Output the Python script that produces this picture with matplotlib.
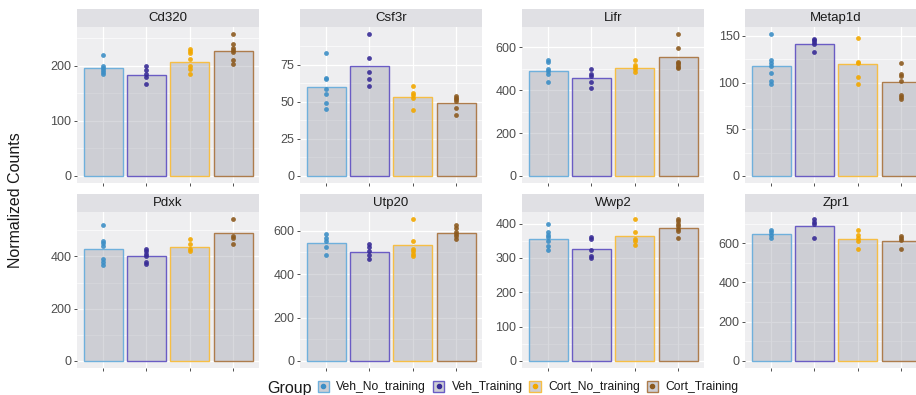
import matplotlib
matplotlib.use("Agg")
import matplotlib.pyplot as plt
from matplotlib.lines import Line2D
from matplotlib.patches import Patch
from matplotlib.legend_handler import HandlerTuple
import numpy as np

plt.rcParams['font.family'] = ['Liberation Sans', 'DejaVu Sans']

groups = ["Veh_No_training", "Veh_Training", "Cort_No_training", "Cort_Training"]
genes = ["Cd320", "Csf3r", "Lifr", "Metap1d", "Pdxk", "Utp20", "Wwp2", "Zpr1"]

# bar heights (group means) per gene
bar_Cd320 = [197, 184, 208, 228]
bar_Csf3r = [60, 73.9, 53.3, 49.2]
bar_Lifr = [492, 455, 506, 555]
bar_Metap1d = [117.4, 141.8, 119.6, 101]
bar_Pdxk = [428, 400, 437, 491]
bar_Utp20 = [543, 502, 535, 592]
bar_Wwp2 = [356, 327, 365, 388]
bar_Zpr1 = [645, 690, 624, 612]

# individual sample values per gene, per group
pts_Cd320 = [[220.7, 200.6, 197, 193, 189, 185],
             [199.4, 192, 185.4, 180, 168],
             [231.6, 228, 224, 212, 200, 194, 186],
             [258, 240, 233, 229, 226, 210, 204]]
pts_Csf3r = [[83.1, 66, 65.4, 58.2, 55.3, 49.2, 44.9],
             [95.5, 79.3, 70.1, 65.2, 60.7],
             [60.4, 55.5, 54.4, 52.6, 44.3],
             [53.9, 52.8, 51.7, 50.3, 45.4, 41.3]]
pts_Lifr = [[541, 531, 497, 489, 475, 439],
            [499, 475, 466, 438, 411],
            [542, 516, 510, 497, 486],
            [662, 598, 533, 525, 517, 510, 502]]
pts_Metap1d = [[152, 124, 121, 118, 110, 102, 98.5],
               [146.8, 145.4, 143.6, 141.8, 132.8],
               [147.5, 122.4, 120.7, 106.3, 98.5],
               [121, 109.6, 107, 101.3, 86.3, 84.1, 82.3]]
pts_Pdxk = [[520, 459, 451, 441, 390, 380, 368],
            [428, 419, 410, 403, 380, 371],
            [466, 447, 428, 420],
            [543, 477, 469, 447]]
pts_Utp20 = [[585, 569, 554, 526, 489],
             [537, 525, 505, 488, 468],
             [654, 554, 518, 506, 494, 485],
             [628, 611, 595, 586, 577, 562]]
pts_Wwp2 = [[400, 376, 366, 361, 348, 336, 323],
            [360, 354, 322, 305, 301],
            [412, 376, 356, 349, 339],
            [413, 407, 400, 392, 385, 377, 359]]
pts_Zpr1 = [[668, 655, 641, 627],
            [723, 709, 696, 629],
            [667, 641, 626, 612, 573],
            [638, 626, 616, 571]]

ticks_Cd320 = [0, 100, 200]
ticks_Csf3r = [0, 25, 50, 75]
ticks_Lifr = [0, 200, 400, 600]
ticks_Metap1d = [0, 50, 100, 150]
ticks_Pdxk = [0, 200, 400]
ticks_Utp20 = [0, 200, 400, 600]
ticks_Wwp2 = [0, 100, 200, 300, 400]
ticks_Zpr1 = [0, 200, 400, 600]

bars = [bar_Cd320, bar_Csf3r, bar_Lifr, bar_Metap1d, bar_Pdxk, bar_Utp20, bar_Wwp2, bar_Zpr1]
pts = [pts_Cd320, pts_Csf3r, pts_Lifr, pts_Metap1d, pts_Pdxk, pts_Utp20, pts_Wwp2, pts_Zpr1]
ticks = [ticks_Cd320, ticks_Csf3r, ticks_Lifr, ticks_Metap1d, ticks_Pdxk, ticks_Utp20, ticks_Wwp2, ticks_Zpr1]

edge_cols = ["#6FB0DC", "#6A5CC4", "#F6BE45", "#AD7C4C"]
pt_cols = ["#3D8FC6", "#382C96", "#F2A800", "#8C5A1F"]
panel_bg = "#EEEEF0"
strip_bg = "#E0E0E4"
bar_fill = "#9C9EAA"
tick_col = "#4D4D4D"

W, H = 916, 395
fig = plt.figure(figsize=(W / 100, H / 100), dpi=100)

col_left = [77, 300, 522, 745]
row_top = [9, 194]
pw, strip_h, ph = 182, 18, 156

for i, gene in enumerate(genes):
    r, c = divmod(i, 4)
    x0 = col_left[c]
    ytop = row_top[r]
    ax = fig.add_axes([x0 / W, 1 - (ytop + strip_h + ph) / H, pw / W, ph / H])
    sax = fig.add_axes([x0 / W, 1 - (ytop + strip_h) / H, pw / W, strip_h / H])
    sax.set_facecolor(strip_bg)
    sax.set_xticks([]); sax.set_yticks([])
    for s in sax.spines.values():
        s.set_visible(False)
    sax.text(0.5, 0.5, gene, ha='center', va='center', fontsize=9.5, color='#1A1A1A',
             transform=sax.transAxes)

    ax.set_facecolor(panel_bg)
    for s in ax.spines.values():
        s.set_visible(False)
    xs = np.arange(1, 5)
    ymax = max(max(p) for p in pts[i])
    tk = ticks[i]
    step = tk[1] - tk[0]
    minors = [t + step / 2 for t in tk]
    ax.bar(xs, bars[i], width=0.9, color=bar_fill, alpha=0.4, zorder=2, lw=0)
    ax.bar(xs, bars[i], width=0.9, fill=False, edgecolor=edge_cols, lw=1.0, zorder=3)
    for g in range(4):
        ax.scatter([xs[g]] * len(pts[i][g]), pts[i][g], s=12, color=pt_cols[g],
                   zorder=4, lw=0, alpha=0.9)
    ax.set_yticks(tk)
    ax.set_yticklabels([str(t) for t in tk])
    ax.set_yticks(minors, minor=True)
    ax.set_xticks(xs)
    ax.set_xticklabels([])
    ax.set_xlim(0.4, 4.6)
    ax.set_ylim(-0.05 * ymax, 1.05 * ymax)
    ax.grid(True, which='major', color='white', lw=0.9)
    ax.grid(True, which='minor', axis='y', color='white', lw=0.45)
    ax.set_axisbelow(True)
    ax.tick_params(axis='both', which='major', length=2.5, width=0.6, color='#333333',
                   labelsize=9, labelcolor=tick_col, pad=1.5)
    ax.tick_params(axis='both', which='minor', length=0)

fig.text(16 / W, 1 - 200 / H, "Normalized Counts", rotation=90, ha='center', va='center',
         fontsize=11.5, color='#1A1A1A')

handles = []
for g in range(4):
    p = Patch(facecolor='#CDCED4', edgecolor=edge_cols[g], lw=1.0)
    d = Line2D([], [], marker='o', ls='', color=pt_cols[g], ms=3)
    handles.append((p, d))
fig.text(289 / W, 1 - 388 / H, "Group", ha='center', va='center', fontsize=11.5, color='#1A1A1A')
fig.legend(handles, groups, handler_map={tuple: HandlerTuple(ndivide=1)},
           loc='center', bbox_to_anchor=(528 / W, 1 - 387 / H), ncol=4, frameon=False,
           fontsize=8.7, handlelength=0.95, handleheight=1.0, handletextpad=0.6,
           columnspacing=0.55, borderpad=0, labelcolor='#1A1A1A')

fig.savefig("out.png", dpi=100)
